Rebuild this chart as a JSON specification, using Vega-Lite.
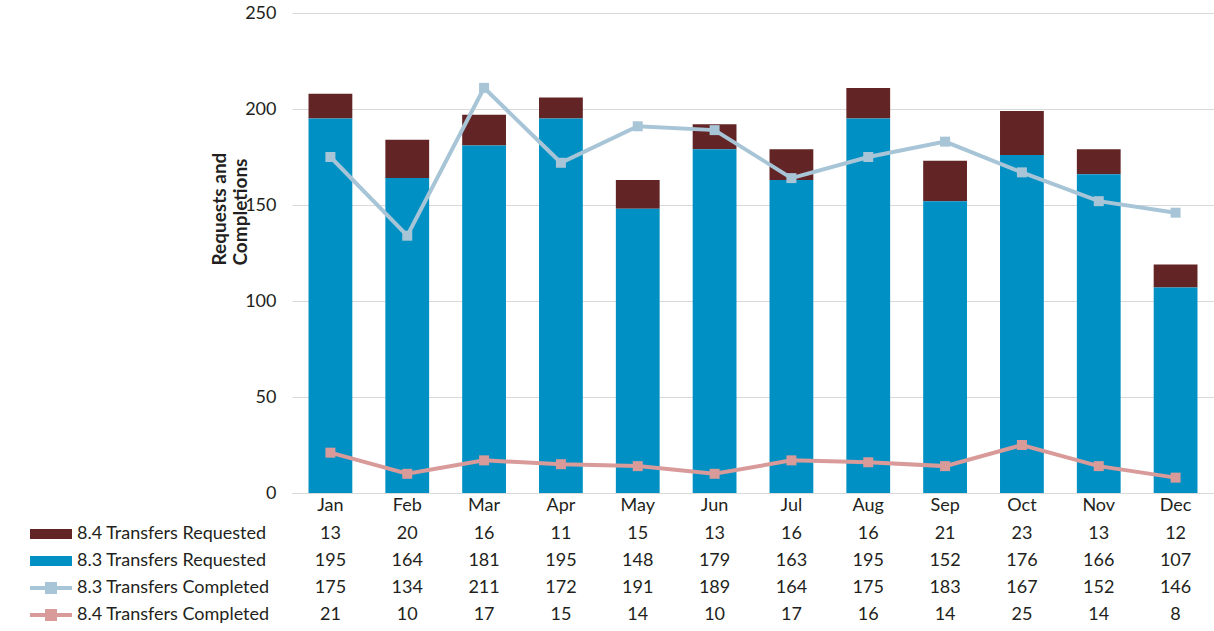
{
  "$schema": "https://vega.github.io/schema/vega-lite/v6.json",
  "padding": {"left": 42, "top": 4, "right": 0, "bottom": 0},
  "config": {"font": "Lato", "view": {"stroke": null}, "text": {"color": "#231f20"}},
  "data": {"values": [
    {"month": "Jan", "series": "8.4 Transfers Requested", "value": 13},
    {"month": "Feb", "series": "8.4 Transfers Requested", "value": 20},
    {"month": "Mar", "series": "8.4 Transfers Requested", "value": 16},
    {"month": "Apr", "series": "8.4 Transfers Requested", "value": 11},
    {"month": "May", "series": "8.4 Transfers Requested", "value": 15},
    {"month": "Jun", "series": "8.4 Transfers Requested", "value": 13},
    {"month": "Jul", "series": "8.4 Transfers Requested", "value": 16},
    {"month": "Aug", "series": "8.4 Transfers Requested", "value": 16},
    {"month": "Sep", "series": "8.4 Transfers Requested", "value": 21},
    {"month": "Oct", "series": "8.4 Transfers Requested", "value": 23},
    {"month": "Nov", "series": "8.4 Transfers Requested", "value": 13},
    {"month": "Dec", "series": "8.4 Transfers Requested", "value": 12},
    {"month": "Jan", "series": "8.3 Transfers Requested", "value": 195},
    {"month": "Feb", "series": "8.3 Transfers Requested", "value": 164},
    {"month": "Mar", "series": "8.3 Transfers Requested", "value": 181},
    {"month": "Apr", "series": "8.3 Transfers Requested", "value": 195},
    {"month": "May", "series": "8.3 Transfers Requested", "value": 148},
    {"month": "Jun", "series": "8.3 Transfers Requested", "value": 179},
    {"month": "Jul", "series": "8.3 Transfers Requested", "value": 163},
    {"month": "Aug", "series": "8.3 Transfers Requested", "value": 195},
    {"month": "Sep", "series": "8.3 Transfers Requested", "value": 152},
    {"month": "Oct", "series": "8.3 Transfers Requested", "value": 176},
    {"month": "Nov", "series": "8.3 Transfers Requested", "value": 166},
    {"month": "Dec", "series": "8.3 Transfers Requested", "value": 107},
    {"month": "Jan", "series": "8.3 Transfers Completed", "value": 175},
    {"month": "Feb", "series": "8.3 Transfers Completed", "value": 134},
    {"month": "Mar", "series": "8.3 Transfers Completed", "value": 211},
    {"month": "Apr", "series": "8.3 Transfers Completed", "value": 172},
    {"month": "May", "series": "8.3 Transfers Completed", "value": 191},
    {"month": "Jun", "series": "8.3 Transfers Completed", "value": 189},
    {"month": "Jul", "series": "8.3 Transfers Completed", "value": 164},
    {"month": "Aug", "series": "8.3 Transfers Completed", "value": 175},
    {"month": "Sep", "series": "8.3 Transfers Completed", "value": 183},
    {"month": "Oct", "series": "8.3 Transfers Completed", "value": 167},
    {"month": "Nov", "series": "8.3 Transfers Completed", "value": 152},
    {"month": "Dec", "series": "8.3 Transfers Completed", "value": 146},
    {"month": "Jan", "series": "8.4 Transfers Completed", "value": 21},
    {"month": "Feb", "series": "8.4 Transfers Completed", "value": 10},
    {"month": "Mar", "series": "8.4 Transfers Completed", "value": 17},
    {"month": "Apr", "series": "8.4 Transfers Completed", "value": 15},
    {"month": "May", "series": "8.4 Transfers Completed", "value": 14},
    {"month": "Jun", "series": "8.4 Transfers Completed", "value": 10},
    {"month": "Jul", "series": "8.4 Transfers Completed", "value": 17},
    {"month": "Aug", "series": "8.4 Transfers Completed", "value": 16},
    {"month": "Sep", "series": "8.4 Transfers Completed", "value": 14},
    {"month": "Oct", "series": "8.4 Transfers Completed", "value": 25},
    {"month": "Nov", "series": "8.4 Transfers Completed", "value": 14},
    {"month": "Dec", "series": "8.4 Transfers Completed", "value": 8}
  ]},
  "resolve": {"scale": {"color": "independent", "shape": "independent"}, "legend": {"color": "independent", "shape": "independent"}},
  "spacing": 6,
  "vconcat": [
    {
      "width": 922,
      "height": 480,
      "layer": [
        {
          "mark": {"type": "bar"},
          "transform": [{"filter": "indexof(datum.series, 'Requested') >= 0"}],
          "encoding": {
            "x": {"field": "month", "type": "ordinal", "sort": ["Jan","Feb","Mar","Apr","May","Jun","Jul","Aug","Sep","Oct","Nov","Dec"],
              "scale": {"paddingInner": 0.43, "paddingOuter": 0.215},
              "axis": {"title": null, "labelAngle": 0, "ticks": false, "domain": true, "domainColor": "#d9d9d9", "labelFontSize": 18, "labelColor": "#231f20", "labelPadding": 3}},
            "y": {"aggregate": "sum", "field": "value", "type": "quantitative", "stack": "zero",
              "scale": {"domain": [0, 250], "nice": false},
              "axis": {"title": ["Requests and", "Completions"], "titleFontWeight": "bold", "titleFontSize": 19, "titleLineHeight": 21, "titleColor": "#231f20", "titleAlign": "left", "titleBaseline": "middle", "titleX": -73, "titleY": 252,
                "values": [0, 50, 100, 150, 200, 250], "labelFontSize": 18, "labelColor": "#231f20", "labelPadding": 16, "ticks": false, "tickSize": 0, "domain": false, "gridColor": "#d9d9d9"}},
            "color": {"field": "series", "type": "nominal",
              "scale": {"domain": ["8.4 Transfers Requested", "8.3 Transfers Requested", "8.3 Transfers Completed", "8.4 Transfers Completed"], "range": ["#622425", "#0090c3", "#a7c5d6", "#d99a9a"]},
              "legend": null},
            "order": {"field": "series", "type": "nominal", "sort": "ascending"}
          }
        },
        {
          "mark": {"type": "line", "strokeWidth": 4, "point": {"filled": true, "shape": "square", "size": 100, "opacity": 1}},
          "transform": [{"filter": "indexof(datum.series, 'Completed') >= 0"}],
          "encoding": {
            "x": {"field": "month", "type": "ordinal", "sort": ["Jan","Feb","Mar","Apr","May","Jun","Jul","Aug","Sep","Oct","Nov","Dec"]},
            "y": {"field": "value", "type": "quantitative"},
            "color": {"field": "series", "type": "nominal", "legend": null}
          }
        }
      ]
    },
    {
      "width": 922,
      "height": 109,
      "layer": [
        {
          "mark": {"type": "text", "fontSize": 18, "color": "#231f20"},
          "encoding": {
            "x": {"field": "month", "type": "ordinal", "sort": ["Jan","Feb","Mar","Apr","May","Jun","Jul","Aug","Sep","Oct","Nov","Dec"],
              "scale": {"paddingInner": 0.43, "paddingOuter": 0.215}, "axis": null},
            "y": {"field": "series", "type": "nominal", "sort": ["8.4 Transfers Requested", "8.3 Transfers Requested", "8.3 Transfers Completed", "8.4 Transfers Completed"], "axis": null},
            "text": {"field": "value", "type": "quantitative"}
          }
        },
        {
          "mark": {"type": "point", "filled": true, "opacity": 1},
          "transform": [{"filter": "datum.value < 0"}],
          "encoding": {
            "color": {"field": "series", "type": "nominal",
              "scale": {"domain": ["8.4 Transfers Requested", "8.3 Transfers Requested", "8.3 Transfers Completed", "8.4 Transfers Completed"], "range": ["#622425", "#0090c3", "#a7c5d6", "#d99a9a"]},
              "legend": {"orient": "none", "legendX": -250, "legendY": 5, "title": null, "labelFontSize": 18, "labelColor": "#231f20", "labelLimit": 0, "labelOffset": 17, "rowPadding": 9, "symbolSize": 100, "symbolStrokeWidth": 0, "symbolOpacity": 1, "padding": 0}},
            "shape": {"field": "series", "type": "nominal",
              "scale": {"domain": ["8.4 Transfers Requested", "8.3 Transfers Requested", "8.3 Transfers Completed", "8.4 Transfers Completed"],
                "range": ["M-4.2,-1H4.2V1H-4.2Z", "M-4.2,-1H4.2V1H-4.2Z", "M-4.2,-0.4H4.2V0.4H-4.2Z M-1.2,-1.2H1.2V1.2H-1.2Z", "M-4.2,-0.4H4.2V0.4H-4.2Z M-1.2,-1.2H1.2V1.2H-1.2Z"]}}
          }
        }
      ]
    }
  ]
}
